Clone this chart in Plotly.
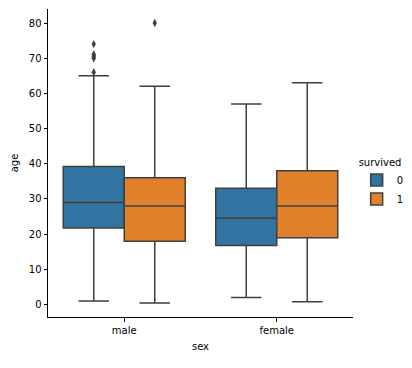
import plotly.graph_objects as go

categories = ["male", "female"]
hues = ["0", "1"]
colors = ["#3274a1", "#e1812c"]

# stats per hue, per category (male, female)
q1 = {"0": [21.75, 16.75], "1": [18.0, 19.0]}
median = {"0": [29.0, 24.5], "1": [28.0, 28.0]}
q3 = {"0": [39.25, 33.0], "1": [36.0, 38.0]}
lowerfence = {"0": [1.0, 2.0], "1": [0.42, 0.75]}
upperfence = {"0": [65.0, 57.0], "1": [62.0, 63.0]}
outliers = {
    "0": [[66.0, 70.0, 70.5, 71.0, 71.0, 74.0], []],
    "1": [[80.0], []],
}

box_width = 0.4
line_col = "#3f3f3f"

fig = go.Figure()
for h_i, h in enumerate(hues):
    offset = (h_i - 0.5) * box_width
    xs = [c_i + offset for c_i in range(len(categories))]
    fig.add_trace(go.Box(
        x=xs, q1=q1[h], median=median[h], q3=q3[h],
        lowerfence=lowerfence[h], upperfence=upperfence[h],
        width=box_width, name=h, legendgroup=h,
        fillcolor=colors[h_i], line=dict(color=line_col, width=1.5),
        whiskerwidth=0.5, boxpoints=False, hoverinfo="skip",
    ))
    ox, oy = [], []
    for c_i in range(len(categories)):
        for v in outliers[h][c_i]:
            ox.append(xs[c_i])
            oy.append(v)
    if ox:
        fig.add_trace(go.Scatter(
            x=ox, y=oy, mode="markers", showlegend=False,
            marker=dict(symbol="diamond-tall", size=6, color=line_col),
            hoverinfo="skip",
        ))

axis_common = dict(
    showline=True, linecolor="black", linewidth=1, showgrid=False, zeroline=False,
    ticks="outside", ticklen=3.5, tickwidth=1, tickcolor="black",
    tickfont=dict(size=10, color="black"), automargin=False,
)
fig.update_layout(
    width=412, height=368,
    margin=dict(l=40, r=67, t=1, b=59, autoexpand=False),
    paper_bgcolor="white", plot_bgcolor="white",
    font=dict(family="DejaVu Sans", size=10, color="black"),
    xaxis=dict(range=[-0.5, 1.5], tickvals=list(range(len(categories))), ticktext=categories,
               title=dict(text="sex", font=dict(size=10, color="black"), standoff=8), **axis_common),
    yaxis=dict(range=[-3.56, 83.98], tickvals=list(range(0, 81, 10)),
               title=dict(text="age", font=dict(size=10, color="black"), standoff=8), **axis_common),
    legend=dict(title=dict(text="survived", font=dict(size=10)), x=1.012, xanchor="left",
                y=0.435, yanchor="middle", font=dict(size=10), bgcolor="rgba(0,0,0,0)",
                itemwidth=30, tracegroupgap=0),
    showlegend=True,
)
fig.write_html("out.html")
